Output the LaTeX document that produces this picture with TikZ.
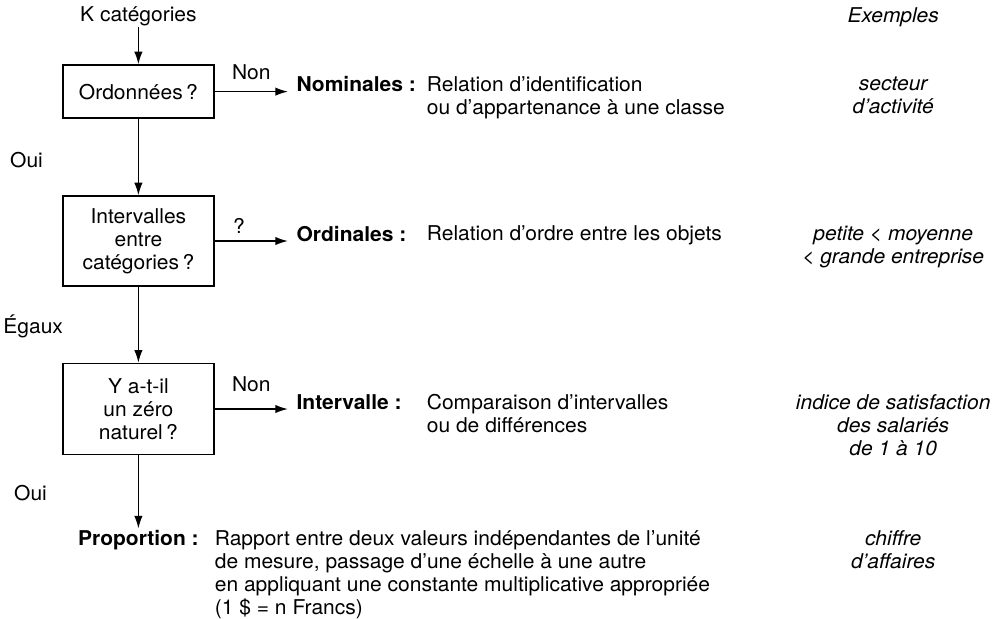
\documentclass[tikz,border=0pt]{standalone}
\usepackage{fontspec}
\setmainfont[FakeStretch=1.03]{TeX Gyre Heros}
\usetikzlibrary{arrows.meta, positioning, shapes}

\begin{document}
\fontsize{14.5}{16.4}\selectfont
\begin{tikzpicture}[
	box/.style={draw, line width=1pt, align=center, minimum width=3.78cm},
	kind/.style={anchor=base west, inner xsep=6pt, inner ysep=1pt, font=\bfseries},
	desc/.style={anchor=north west, align=left, inner sep=1pt},
	ex/.style={anchor=north, align=center, inner sep=1pt, font=\itshape},
	link/.style={draw, line width=1pt, -{Latex[length=9pt, width=6pt]}}
]

\useasboundingbox (0,0) rectangle (24.925,-15.475);

% columns of text
\coordinate (col) at (10.63,0);
\coordinate (pcol) at (5.33,0);
\coordinate (excol) at (22.33,0);

% questions
\node [inner sep=1pt] (0) at (3.46,-0.4) {K catégories};
\node [box, minimum height=1.33cm] (1) at (3.46,-2.29) {Ordonnées\,?};
\node [box, minimum height=2.25cm, below=1.91cm of 1] (2) {Intervalles\\entre\\catégories\,?};
\node [box, minimum height=2.28cm, below=1.9cm of 2] (3) {Y a-t-il\\un zéro\\naturel\,?};

% scales
\node [kind, right=1.83cm of 1.east, anchor=base west] (n1) {Nominales :};
\node [kind, right=1.83cm of 2.east, anchor=base west] (n2) {Ordinales :};
\node [kind, right=1.83cm of 3.east, anchor=base west] (n3) {Intervalle :};
\node [inner sep=1pt, font=\bfseries, below=1.83cm of 3] (n4) {Proportion :};

\node [desc] (d1) at (n1.north -| col) {Relation d’identification\\ou d’appartenance à une classe};
\node [desc] (d2) at (n2.north -| col) {Relation d’ordre entre les objets};
\node [desc] (d3) at (n3.north -| col) {Comparaison d’intervalles\\ou de différences};
\node [desc] (d4) at (n4.north -| pcol) {Rapport entre deux valeurs indépendantes de l’unité\\de mesure, passage d’une échelle à une autre\\en appliquant une constante multiplicative appropriée\\(1 \$ = n Francs)};

% examples
\node [ex, anchor=center] (e0) at (excol |- 0,-0.42) {Exemples};
\node [ex] (e1) at (n1.north -| excol) {secteur\\d’activité};
\node [ex] (e2) at (n2.north -| excol) {petite < moyenne\\< grande entreprise};
\node [ex] (e3) at (n3.north -| excol) {indice de satisfaction\\des salariés\\de 1 à 10};
\node [ex] (e4) at (n4.north -| excol) {chiffre\\d’affaires};

\path [link] (0) edge (1);
\path [link] (1) edge node [left=2.2cm, yshift=-2pt] {Oui} (2);
\path [link] (2) edge node [left=1.7cm, yshift=-1pt] {Égaux} (3);
\path [link] (3) edge node [left=2.1cm, yshift=-1pt] {Oui} (n4);

\path [link] (1) edge node [above=3pt] {Non} (n1.base west);
\path [link] (2) edge node [pos=0.33, above=0pt] {?} (n2.base west);
\path [link] (3) edge node [above=7pt] {Non} (n3.base west);

\end{tikzpicture}
\end{document}
